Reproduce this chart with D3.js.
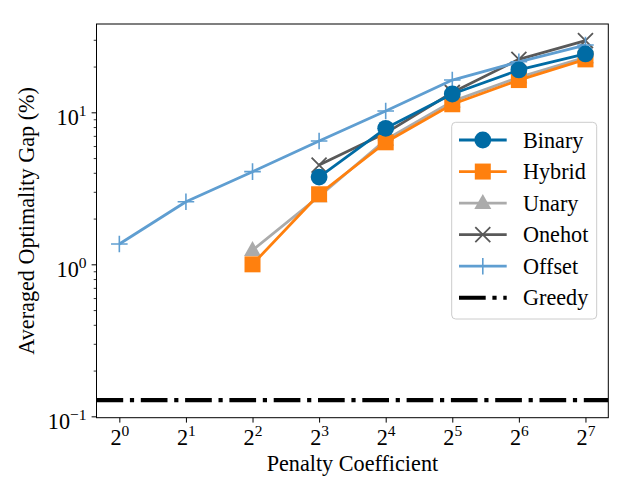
<!DOCTYPE html>
<html><head><meta charset="utf-8">
<script src="https://cdn.jsdelivr.net/npm/d3@7"></script>
<style>body{margin:0;background:#fff}svg{display:block}</style>
</head><body>
<svg id="c" width="640" height="480"></svg>
<script>
const exponents = [0,1,2,3,4,5,6,7];
const binary = [null,null,null,3.75,7.85,13.2,19.0,24.2];
const hybrid = [null,null,1.0,2.89,6.35,11.3,16.3,22.3];
const unary  = [null,null,1.24,2.8,6.6,11.8,17.0,23.0];
const onehot = [null,null,null,4.5,7.3,13.5,22.3,29.6];
const offset = [1.36,2.58,4.07,6.47,10.2,16.3,21.5,27.7];
const greedy = 0.128;
const yTicks = [-1,0,1];
const seriesNames = ["Binary","Hybrid","Unary","Onehot","Offset","Greedy"];

const FONT = "'Liberation Serif','Times New Roman',serif";
const FS = 22.2, SUP = 15.5;
const svg = d3.select("#c");
const L=96.5, R=608.3, T=24, B=417.7;
const x = d3.scaleLog().base(2).domain([Math.pow(2,-0.343), Math.pow(2,7.343)]).range([L,R]);
const y = d3.scaleLog().domain([Math.pow(10,-1.009), Math.pow(10,1.581)]).range([B,T]);

const series = [
  {name:"Unary", vals:unary, color:"#ABABAB", marker:"tri"},
  {name:"Onehot", vals:onehot, color:"#595959", marker:"x"},
  {name:"Offset", vals:offset, color:"#5F9ED1", marker:"plus"},
  {name:"Hybrid", vals:hybrid, color:"#FF800E", marker:"sq"},
  {name:"Binary", vals:binary, color:"#006BA4", marker:"circle"}
];

function drawMarker(g, type, color, cx, cy){
  if(type==="circle") g.append("circle").attr("cx",cx).attr("cy",cy).attr("r",8.4).attr("fill",color);
  else if(type==="sq") g.append("rect").attr("x",cx-8).attr("y",cy-8).attr("width",16).attr("height",16).attr("fill",color);
  else if(type==="tri") g.append("path").attr("d",`M${cx},${cy-9}L${cx+8.5},${cy+6}L${cx-8.5},${cy+6}Z`).attr("fill",color);
  else if(type==="x") g.append("path").attr("d",`M${cx-7.5},${cy-7.5}L${cx+7.5},${cy+7.5}M${cx-7.5},${cy+7.5}L${cx+7.5},${cy-7.5}`).attr("stroke",color).attr("stroke-width",1.8).attr("fill","none");
  else if(type==="plus") g.append("path").attr("d",`M${cx-8.3},${cy}L${cx+8.3},${cy}M${cx},${cy-8.3}L${cx},${cy+8.3}`).attr("stroke",color).attr("stroke-width",1.6).attr("fill","none");
}

const defs = svg.append("defs");
defs.append("clipPath").attr("id","clip").append("rect").attr("x",L).attr("y",T).attr("width",R-L).attr("height",B-T);
const plot = svg.append("g").attr("clip-path","url(#clip)");

const line = d3.line().defined(d=>d.v!=null).x(d=>x(Math.pow(2,d.e))).y(d=>y(d.v));
series.forEach(s=>{
  const pts = exponents.map((e,i)=>({e, v:s.vals[i]}));
  const g = plot.append("g");
  g.append("path").datum(pts).attr("d",line).attr("fill","none").attr("stroke",s.color).attr("stroke-width",2.8).attr("stroke-linejoin","round");
  pts.filter(p=>p.v!=null).forEach(p=>drawMarker(g,s.marker,s.color,x(Math.pow(2,p.e)),y(p.v)));
});
plot.append("line").attr("x1",L).attr("x2",R).attr("y1",y(greedy)).attr("y2",y(greedy))
  .attr("stroke","#000").attr("stroke-width",4.2).attr("stroke-dasharray","26.7,6.7,4.2,6.7");

// axes
const xAxis = d3.axisBottom(x).tickValues(exponents.map(e=>Math.pow(2,e))).tickSize(4.9).tickPadding(4).tickFormat(d=>d);
const gx = svg.append("g").attr("transform",`translate(0,${B})`).call(xAxis);
gx.select(".domain").remove();
gx.selectAll(".tick line").attr("stroke","#000").attr("stroke-width",1);
gx.selectAll(".tick text").each(function(d){
  const t=d3.select(this); t.text(null).attr("y",27.5).attr("dy",null).attr("font-family",FONT).attr("font-size",FS).attr("fill","#000").attr("text-anchor","middle");
  t.append("tspan").text("2");
  t.append("tspan").attr("dy",-9).attr("font-size",SUP).text(Math.round(Math.log2(d)));
});

const minor=[];
for(let dec=-2;dec<=1;dec++) for(let k=2;k<=9;k++){const v=k*Math.pow(10,dec); if(v>=y.domain()[0]&&v<=y.domain()[1]) minor.push(v);}
const gym = svg.append("g").attr("transform",`translate(${L},0)`).call(d3.axisLeft(y).tickValues(minor).tickSize(2.8).tickFormat(""));
gym.select(".domain").remove();
gym.selectAll(".tick line").attr("stroke","#000").attr("stroke-width",0.8);

const gy = svg.append("g").attr("transform",`translate(${L},0)`).call(d3.axisLeft(y).tickValues(yTicks.map(e=>Math.pow(10,e))).tickSize(4.9).tickPadding(9).tickFormat(d=>d));
gy.select(".domain").remove();
gy.selectAll(".tick line").attr("stroke","#000").attr("stroke-width",1);
gy.selectAll(".tick text").each(function(d){
  const t=d3.select(this); t.text(null).attr("dy",null).attr("y",12).attr("x",-10).attr("font-family",FONT).attr("font-size",FS).attr("fill","#000").attr("text-anchor","end");
  t.append("tspan").text("10");
  t.append("tspan").attr("dy",-9).attr("font-size",SUP).text(Math.round(Math.log10(d)).toString().replace("-","\u2212"));
});

svg.append("rect").attr("x",L).attr("y",T).attr("width",R-L).attr("height",B-T).attr("fill","none").attr("stroke","#000").attr("stroke-width",1);

svg.append("text").attr("x",(L+R)/2).attr("y",471).attr("text-anchor","middle").attr("font-family",FONT).attr("font-size",FS).text("Penalty Coefficient");
svg.append("text").attr("transform",`translate(34,${(T+B)/2}) rotate(-90)`).attr("text-anchor","middle").attr("font-family",FONT).attr("font-size",FS).text("Averaged Optimality Gap (%)");

// legend
const lg = svg.append("g");
lg.append("rect").attr("x",451.7).attr("y",122.3).attr("width",145).attr("height",196.7).attr("rx",4).attr("fill","#fff").attr("fill-opacity",0.8).attr("stroke","#cccccc").attr("stroke-width",1);
const legendInfo = {
  Binary:{color:"#006BA4",marker:"circle"}, Hybrid:{color:"#FF800E",marker:"sq"}, Unary:{color:"#ABABAB",marker:"tri"},
  Onehot:{color:"#595959",marker:"x"}, Offset:{color:"#5F9ED1",marker:"plus"}, Greedy:{color:"#000",marker:null}
};
seriesNames.forEach((n,i)=>{
  const cy = 140 + i*31.55;
  const info = legendInfo[n];
  if(n==="Greedy"){
    lg.append("line").attr("x1",459).attr("x2",506.7).attr("y1",cy).attr("y2",cy).attr("stroke","#000").attr("stroke-width",4.2).attr("stroke-dasharray","26.7,6.7,4.2,6.7");
  } else {
    lg.append("line").attr("x1",459).attr("x2",506.7).attr("y1",cy).attr("y2",cy).attr("stroke",info.color).attr("stroke-width",2.8);
    drawMarker(lg, info.marker, info.color, 482.8, cy);
  }
  lg.append("text").attr("x",523).attr("y",cy+7.5).attr("font-family",FONT).attr("font-size",FS).text(n);
});
</script>
</body></html>
